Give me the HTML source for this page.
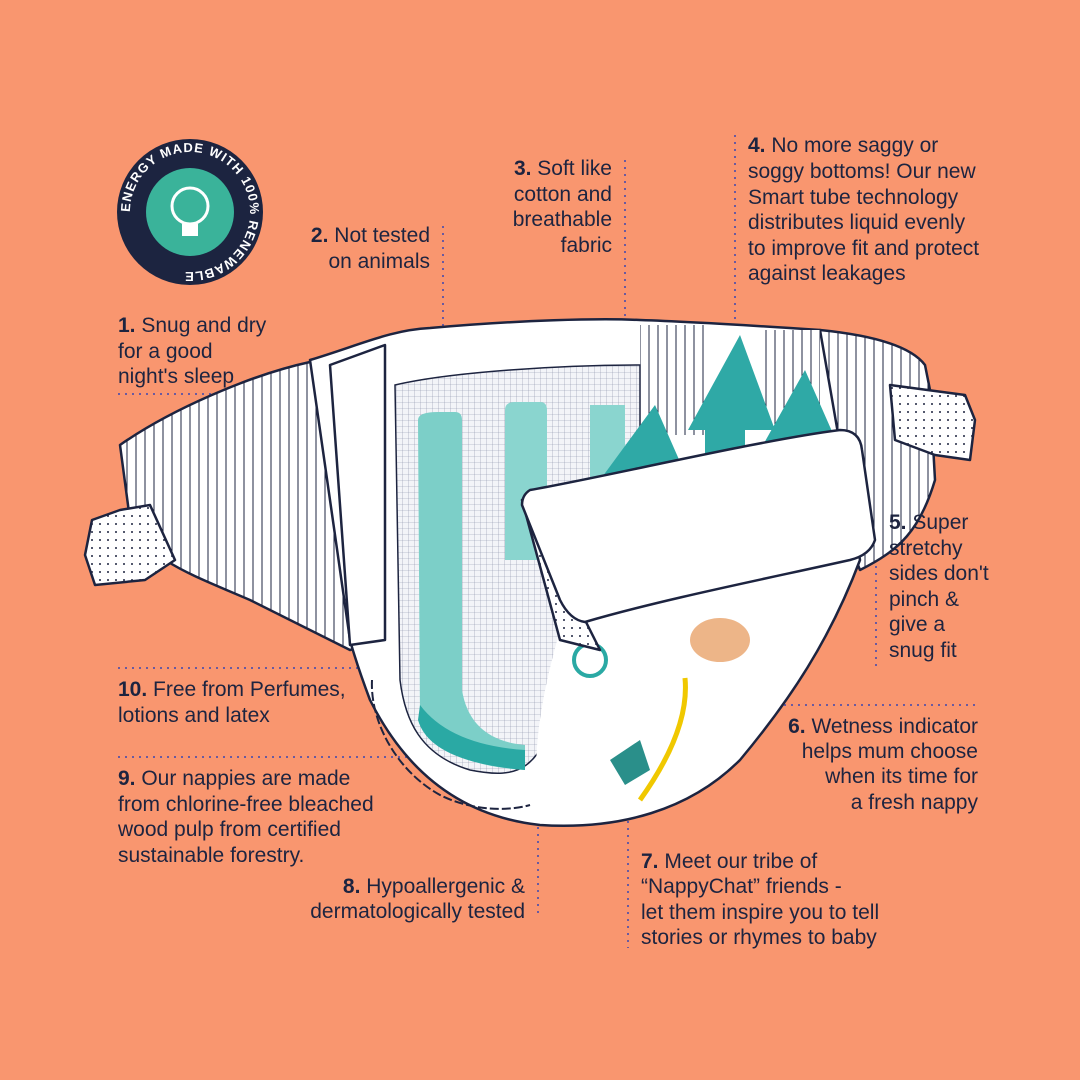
<!DOCTYPE html>
<html><head><meta charset="utf-8"><style>
html,body{margin:0;padding:0;width:1080px;height:1080px;overflow:hidden;background:#F9966F}
svg{display:block}
text{font-family:"Liberation Sans",sans-serif;font-size:21px;fill:#1d2440}
.b{font-weight:bold}
.d{stroke:#6a5aa0;stroke-width:2;stroke-dasharray:2 5;fill:none}
.o{stroke:#1d2440;stroke-width:2.5;stroke-linejoin:round}
</style></head><body>
<svg width="1080" height="1080" viewBox="0 0 1080 1080">
<defs>
<pattern id="st" width="9" height="9" patternUnits="userSpaceOnUse"><rect width="9" height="9" fill="#fff"/><line x1="1" y1="0" x2="1" y2="9" stroke="#1d2440" stroke-width="1"/></pattern>
<pattern id="mesh" width="6" height="6" patternUnits="userSpaceOnUse"><rect width="6" height="6" fill="#f3f4f8"/><path d="M0 0H6M0 0V6" stroke="#8a90a8" stroke-width="0.6"/></pattern>
<pattern id="dots" width="8" height="8" patternUnits="userSpaceOnUse"><rect width="8" height="8" fill="#fff"/><circle cx="4" cy="4" r="1" fill="#1d2440"/></pattern>
</defs>
<!-- badge -->
<circle cx="190" cy="212" r="73" fill="#1c2440"/>
<circle cx="190" cy="212" r="44" fill="#3ab39a"/>
<circle cx="190" cy="206" r="18" fill="none" stroke="#fff" stroke-width="3"/>
<rect x="182" y="224" width="16" height="12" fill="#fff"/>
<path id="arc" d="M130 212 A60 60 0 1 1 250 212 A60 60 0 1 1 130 212" fill="none"/>
<text style="font-size:13px;font-weight:bold;fill:#fff;letter-spacing:1px"><textPath href="#arc">ENERGY MADE WITH 100% RENEWABLE</textPath></text>
<!-- dotted leaders -->
<path class="d" d="M118 394H310 M443 226V372 M625 160V400 M735 135V330 M876 510V670 M700 705H980 M628 800V948 M538 820V918 M118 757H420 M118 668H360"/>
<!-- left wing -->
<path class="o" style="fill:url(#st)" d="M310 362 C250 375 170 410 120 445 L130 520 C150 560 180 570 250 600 L350 650 L385 640 L385 350 Z"/>
<path class="o" style="fill:url(#dots)" d="M120 510 L150 505 L175 560 L145 580 L95 585 L85 555 L92 520 Z"/>
<!-- right wing -->
<path class="o" style="fill:url(#st)" d="M820 330 C870 335 910 345 925 365 L930 390 L935 480 C920 530 900 550 860 570 L800 420 Z"/>
<path class="o" style="fill:url(#dots)" d="M890 385 L965 395 L975 420 L970 460 L935 455 L895 440 Z"/>
<!-- main body -->
<path class="o" fill="#fff" d="M310 360 C360 345 390 330 430 328 C520 320 600 318 640 320 C700 322 760 326 820 330 L860 560 C830 640 790 700 740 760 C690 810 620 830 540 825 C450 815 400 760 370 700 C355 660 350 640 350 640 Z"/>
<path class="o" fill="#fff" d="M330 365 L385 345 L385 640 L350 645 Z"/>
<rect x="640" y="325" width="70" height="110" fill="url(#st)"/>
<rect x="760" y="330" width="60" height="100" fill="url(#st)"/>
<!-- mesh panel -->
<path d="M395 385 C450 372 560 365 640 365 L640 520 L600 560 L560 700 C540 770 520 780 470 770 C420 755 405 720 400 680 Z" fill="url(#mesh)" stroke="#1d2440" stroke-width="1.5"/>
<!-- teal strips -->
<path d="M418 420 Q418 412 438 412 L455 412 Q462 412 462 420 L462 690 Q470 740 525 745 L525 770 Q440 765 420 720 Z" fill="#7ccfc8"/>
<path d="M418 720 Q430 762 525 770 L525 750 Q450 745 420 705Z" fill="#2aa9a4"/>
<path d="M505 410 Q505 402 515 402 L540 402 Q547 402 547 410 L547 560 L505 560 Z" fill="#8ad5cf"/>
<path d="M590 405 L625 405 L625 500 L590 520 Z" fill="#8ad5cf"/>
<!-- bottom print area -->
<path d="M560 630 L790 610 C770 690 740 740 700 780 C660 810 600 825 540 820 C530 760 540 700 560 630 Z" fill="#fff"/>
<path d="M685 678 Q690 730 640 800" stroke="#f0c800" stroke-width="5" fill="none"/>
<ellipse cx="720" cy="640" rx="30" ry="22" fill="#e9a26a" opacity="0.8"/>
<circle cx="590" cy="660" r="16" fill="none" stroke="#2aa9a4" stroke-width="4"/>
<path d="M610 760 L640 740 L650 770 L625 785Z" fill="#2a8f8a"/>
<!-- ruffles -->
<path d="M372 680 C370 720 395 770 440 795 C470 810 505 812 530 805" fill="none" stroke="#1d2440" stroke-width="2" stroke-dasharray="9 3"/>
<!-- arrows -->
<path d="M625 530 L625 480 L600 480 L655 405 L688 480 L665 480 L665 520 Z" fill="#2fa9a6"/>
<path d="M705 510 L705 430 L688 430 L740 335 L775 430 L745 430 L745 500 Z" fill="#2fa9a6"/>
<path d="M780 480 L780 445 L763 445 L805 370 L838 445 L815 445 L815 470 Z" fill="#2fa9a6"/>
<!-- front flap -->
<path class="o" style="fill:url(#dots)" d="M522 500 L560 640 L600 650 L585 620 Z"/>
<path class="o" fill="#fff" d="M530 490 C600 478 760 440 840 430 Q860 430 862 450 L875 540 Q870 555 850 560 C760 580 660 600 585 622 Q570 620 560 600 L522 505 Q522 495 530 490 Z"/>
<!-- texts -->
<text x="118" y="332"><tspan class="b">1.</tspan> Snug and dry</text>
<text x="118" y="358">for a good</text>
<text x="118" y="383">night's sleep</text>
<text x="430" y="242" text-anchor="end"><tspan class="b">2.</tspan> Not tested</text>
<text x="430" y="268" text-anchor="end">on animals</text>
<text x="612" y="175" text-anchor="end"><tspan class="b">3.</tspan> Soft like</text>
<text x="612" y="201" text-anchor="end">cotton and</text>
<text x="612" y="226" text-anchor="end">breathable</text>
<text x="612" y="252" text-anchor="end">fabric</text>
<text x="748" y="152"><tspan class="b">4.</tspan> No more saggy or</text>
<text x="748" y="178">soggy bottoms! Our new</text>
<text x="748" y="204">Smart tube technology</text>
<text x="748" y="229">distributes liquid evenly</text>
<text x="748" y="255">to improve fit and protect</text>
<text x="748" y="280">against leakages</text>
<text x="889" y="529"><tspan class="b">5.</tspan> Super</text>
<text x="889" y="555">stretchy</text>
<text x="889" y="580">sides don't</text>
<text x="889" y="606">pinch &amp;</text>
<text x="889" y="631">give a</text>
<text x="889" y="657">snug fit</text>
<text x="978" y="733" text-anchor="end"><tspan class="b">6.</tspan> Wetness indicator</text>
<text x="978" y="758" text-anchor="end">helps mum choose</text>
<text x="978" y="783" text-anchor="end">when its time for</text>
<text x="978" y="809" text-anchor="end">a fresh nappy</text>
<text x="641" y="868"><tspan class="b">7.</tspan> Meet our tribe of</text>
<text x="641" y="893">“NappyChat” friends -</text>
<text x="641" y="919">let them inspire you to tell</text>
<text x="641" y="944">stories or rhymes to baby</text>
<text x="525" y="893" text-anchor="end"><tspan class="b">8.</tspan> Hypoallergenic &amp;</text>
<text x="525" y="918" text-anchor="end">dermatologically tested</text>
<text x="118" y="785"><tspan class="b">9.</tspan> Our nappies are made</text>
<text x="118" y="811">from chlorine-free bleached</text>
<text x="118" y="836">wood pulp from certified</text>
<text x="118" y="862">sustainable forestry.</text>
<text x="118" y="696"><tspan class="b">10.</tspan> Free from Perfumes,</text>
<text x="118" y="722">lotions and latex</text>
</svg>
</body></html>
